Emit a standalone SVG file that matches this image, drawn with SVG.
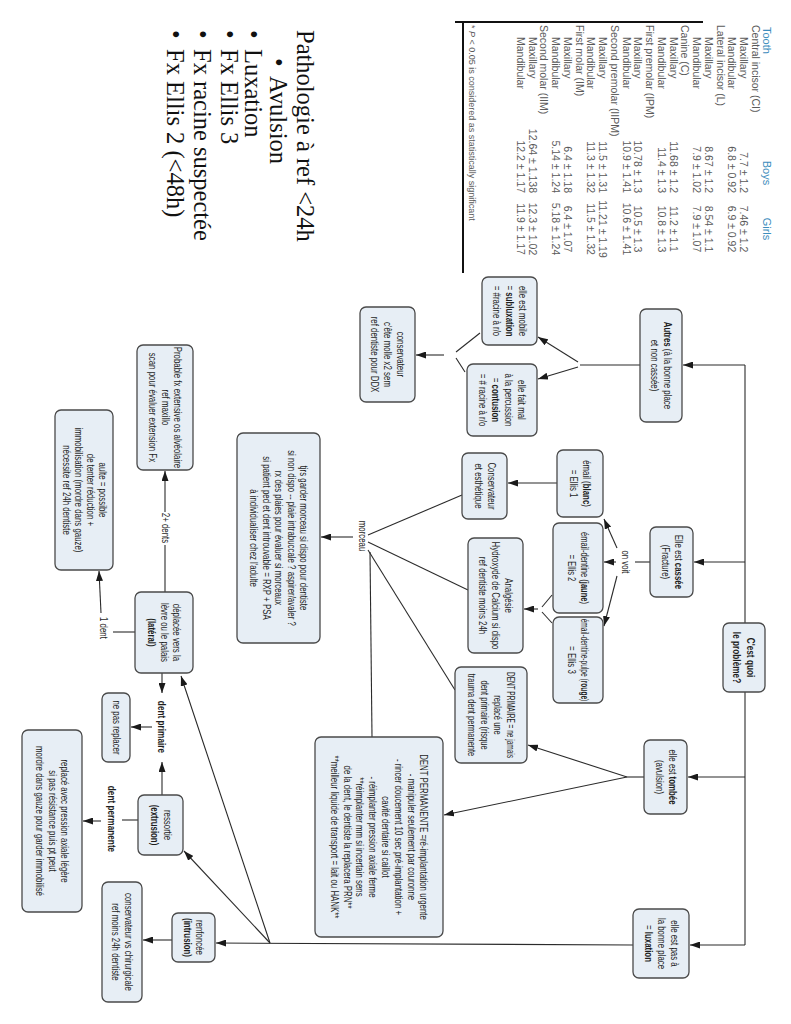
<svg xmlns="http://www.w3.org/2000/svg" width="791" height="1024" viewBox="0 0 791 1024">
<style>
.n rect{fill:#e7eef5;stroke:#4a4a4a;stroke-width:1.3}
.c path{fill:none;stroke:#2b2b2b;stroke-width:1.1}
.c path.a{marker-end:url(#ah)}
.t{font-family:"Liberation Sans",Arial,sans-serif;font-size:10.5px;fill:#1e1e1e;text-anchor:middle}
.lb{font-size:11px;font-weight:bold}
.tb{font-family:"Liberation Sans",Arial,sans-serif;font-size:10.5px;fill:#5a5a5a}
.th{font-family:"Liberation Sans",Arial,sans-serif;font-size:11px;fill:#3d8dbd}
.ti{font-family:"Liberation Serif","Times New Roman",serif;font-size:24.5px;fill:#111}
</style>
<defs>
<marker id="ah" viewBox="0 0 10 7" refX="10" refY="3.5" markerWidth="10" markerHeight="7" markerUnits="userSpaceOnUse" orient="auto"><path d="M0,0L10,3.5L0,7z" fill="#1a1a1a"/></marker>
</defs>
<rect width="791" height="1024" fill="#fff"/>
<g transform="translate(791,0) rotate(90)">
<g id="title">
<text class="ti" x="30" y="494">Pathologie à ref &lt;24h</text>
<text class="ti" x="58" y="521">•</text><text class="ti" x="76" y="521">Avulsion</text>
<text class="ti" x="30" y="546">•</text><text class="ti" x="49" y="546">Luxation</text>
<text class="ti" x="30" y="570">•</text><text class="ti" x="49" y="570">Fx Ellis 3</text>
<text class="ti" x="30" y="597">•</text><text class="ti" x="49" y="597">Fx racine suspectée</text>
<text class="ti" x="30" y="624">•</text><text class="ti" x="49" y="624">Fx Ellis 2 (&lt;48h)</text>
</g>
<g id="table">
<path d="M22,88V336M22,328H273" fill="none" stroke="#111" stroke-width="2"/>
<text class="th" x="27" y="28">Tooth</text>
<text class="th" x="173" y="28" text-anchor="middle">Boys</text>
<text class="th" x="229" y="28" text-anchor="middle">Girls</text>
<g class="tb">
<text x="25" y="39.25">Central incisor (CI)</text>
<text x="37" y="51">Maxillary</text><text x="193" y="51" text-anchor="end">7.7 ± 1.2</text><text x="229" y="51" text-anchor="middle">7.46 ± 1.2</text>
<text x="37" y="62.75">Mandibular</text><text x="193" y="62.75" text-anchor="end">6.8 ± 0.92</text><text x="229" y="62.75" text-anchor="middle">6.9 ± 0.92</text>
<text x="25" y="74.5">Lateral incisor (L)</text>
<text x="37" y="86.25">Maxillary</text><text x="193" y="86.25" text-anchor="end">8.67 ± 1.2</text><text x="229" y="86.25" text-anchor="middle">8.54 ± 1.1</text>
<text x="37" y="98">Mandibular</text><text x="193" y="98" text-anchor="end">7.9 ± 1.02</text><text x="229" y="98" text-anchor="middle">7.9 ± 1.07</text>
<text x="25" y="109.75">Canine (C)</text>
<text x="37" y="121.5">Maxillary</text><text x="193" y="121.5" text-anchor="end">11.68 ± 1.2</text><text x="229" y="121.5" text-anchor="middle">11.2 ± 1.1</text>
<text x="37" y="133.25">Mandibular</text><text x="193" y="133.25" text-anchor="end">11.4 ± 1.3</text><text x="229" y="133.25" text-anchor="middle">10.8 ± 1.3</text>
<text x="25" y="145">First premolar (IPM)</text>
<text x="37" y="156.75">Maxillary</text><text x="193" y="156.75" text-anchor="end">10.78 ± 1.3</text><text x="229" y="156.75" text-anchor="middle">10.5 ± 1.3</text>
<text x="37" y="168.5">Mandibular</text><text x="193" y="168.5" text-anchor="end">10.9 ± 1.41</text><text x="229" y="168.5" text-anchor="middle">10.6 ± 1.41</text>
<text x="25" y="180.25">Second premolar (IIPM)</text>
<text x="37" y="192">Maxillary</text><text x="193" y="192" text-anchor="end">11.5 ± 1.31</text><text x="229" y="192" text-anchor="middle">11.21 ± 1.19</text>
<text x="37" y="203.75">Mandibular</text><text x="193" y="203.75" text-anchor="end">11.3 ± 1.32</text><text x="229" y="203.75" text-anchor="middle">11.5 ± 1.32</text>
<text x="25" y="215.5">First molar (IM)</text>
<text x="37" y="227.25">Maxillary</text><text x="193" y="227.25" text-anchor="end">6.4 ± 1.18</text><text x="229" y="227.25" text-anchor="middle">6.4 ± 1.07</text>
<text x="37" y="239">Mandibular</text><text x="193" y="239" text-anchor="end">5.14 ± 1.24</text><text x="229" y="239" text-anchor="middle">5.18 ± 1.24</text>
<text x="25" y="250.75">Second molar (IIM)</text>
<text x="37" y="262.5">Maxillary</text><text x="193" y="262.5" text-anchor="end">12.64 ± 1.138</text><text x="229" y="262.5" text-anchor="middle">12.3 ± 1.02</text>
<text x="37" y="274.25">Mandibular</text><text x="193" y="274.25" text-anchor="end">12.2 ± 1.17</text><text x="229" y="274.25" text-anchor="middle">11.9 ± 1.17</text>
<text x="25" y="322.5" font-size="9">* <tspan font-style="italic">P</tspan> &lt; 0.05 is considered as statistically significant</text>
</g>
</g>
<g id="connectors" class="c">
<path d="M365,46H945"/>
<path class="a" d="M365,46V108"/>
<path class="a" d="M562,46V97"/>
<path class="a" d="M777,46V103"/>
<path class="a" d="M945,46V101"/>
<path d="M365,151V211"/>
<path class="a" d="M362,213L337,253"/>
<path class="a" d="M367,213L379,253"/>
<path d="M333,311L352,335"/>
<path d="M372,326L358,335"/>
<path class="a" d="M355,347V375"/>
<path d="M562,141V156"/>
<path class="a" d="M548,174L519,187"/>
<path class="a" d="M562,175V187"/>
<path class="a" d="M576,174L626,187"/>
<path class="a" d="M483,234V283"/>
<path d="M595,239L607,249"/>
<path d="M623,239L612,249"/>
<path class="a" d="M609,253V267"/>
<path d="M535,423L495,329"/>
<path d="M542,423L590,323"/>
<path d="M550,423L690,336"/>
<path d="M552,421L737,419"/>
<path class="a" d="M537,438V470"/>
<path d="M777,147V164"/>
<path class="a" d="M777,164L745,263"/>
<path class="a" d="M777,164L815,347"/>
<path class="a" d="M945,158L943,575"/>
<path class="a" d="M943,521L851,607"/>
<path class="a" d="M943,521L676,610"/>
<path class="a" d="M673,629H693"/>
<path class="a" d="M795,629H762"/>
<path class="a" d="M727,639V660"/>
<path d="M820,653V669"/>
<path class="a" d="M821,690V708"/>
<path class="a" d="M940,619V648"/>
<path d="M592,626H545"/>
<path class="a" d="M512,626H471"/>
<path d="M632,656V678"/>
<path class="a" d="M613,690L571,692"/>
</g>
<g id="labels" class="t">
<text transform="scale(.75 1)" x="749.3" y="169.5">on voit</text>
<text transform="scale(.75 1)" x="714.7" y="432.5">morceau</text>
<text transform="scale(.75 1)" x="704" y="629.5">2+ dents</text>
<text transform="scale(.75 1)" x="837.3" y="691.5">1 dent</text>
<text class="lb" transform="scale(.75 1)" x="969.3" y="633">dent primaire</text>
<text class="lb" transform="scale(.75 1)" x="1092" y="683">dent permanente</text>
</g>
<g id="n-question" class="n"><rect x="623" y="26" width="69" height="42" rx="6"/><text class="t lb" transform="scale(.75 1)"><tspan x="876.7" y="44">C'est quoi</tspan><tspan x="876.7" y="58">le problème?</tspan></text></g>
<g id="n-autres" class="n"><rect x="309" y="109" width="113" height="42" rx="6"/><text class="t" transform="scale(.75 1)"><tspan x="487.3" y="127"><tspan font-weight="bold">Autres</tspan> (à la bonne place</tspan><tspan x="487.3" y="140">et non cassée)</tspan></text></g>
<g id="n-cassee" class="n"><rect x="527" y="98" width="70" height="43" rx="6"/><text class="t" transform="scale(.75 1)"><tspan x="749.3" y="116.5">Elle est <tspan font-weight="bold">cassée</tspan></tspan><tspan x="749.3" y="129.5">(Fracture)</tspan></text></g>
<g id="n-tombee" class="n"><rect x="740" y="104" width="74" height="43" rx="6"/><text class="t" transform="scale(.75 1)"><tspan x="1036" y="122.5">elle est <tspan font-weight="bold">tombée</tspan></tspan><tspan x="1036" y="135.5">(avulsion)</tspan></text></g>
<g id="n-luxation" class="n"><rect x="909" y="102" width="69" height="56" rx="6"/><text class="t" transform="scale(.75 1)"><tspan x="1258" y="120.5">elle est pas à</tspan><tspan x="1258" y="133.5">la bonne place</tspan><tspan x="1258" y="146.5">= <tspan font-weight="bold">luxation</tspan></tspan></text></g>
<g id="n-subluxation" class="n"><rect x="277" y="254" width="68" height="55" rx="6"/><text class="t" transform="scale(.75 1)"><tspan x="414.7" y="272">elle est mobile</tspan><tspan x="414.7" y="285">= <tspan font-weight="bold">subluxation</tspan></tspan><tspan x="414.7" y="298">= #racine à r/o</tspan></text></g>
<g id="n-contusion" class="n"><rect x="364" y="254" width="72" height="70" rx="6"/><text class="t" transform="scale(.75 1)"><tspan x="533.3" y="273">elle fait mal</tspan><tspan x="533.3" y="286">à la percussion</tspan><tspan x="533.3" y="299">= <tspan font-weight="bold">contusion</tspan></tspan><tspan x="533.3" y="312">= # racine à r/o</tspan></text></g>
<g id="n-conservateur" class="n"><rect x="307" y="376" width="95" height="55" rx="6"/><text class="t" transform="scale(.75 1)"><tspan x="472.7" y="394">conservateur</tspan><tspan x="472.7" y="407">c'ête molle x2 sem</tspan><tspan x="472.7" y="420">ref dentiste pour DDX</tspan></text></g>
<g id="n-ellis1" class="n"><rect x="450" y="188" width="67" height="46" rx="6"/><text class="t" transform="scale(.75 1)"><tspan x="644.7" y="208">émail (<tspan font-weight="bold">blanc</tspan>)</tspan><tspan x="644.7" y="221">= Ellis 1</tspan></text></g>
<g id="n-ellis2" class="n"><rect x="523" y="188" width="90" height="50" rx="6"/><text class="t" transform="scale(.72 1)"><tspan x="788.9" y="210">émail-dentine (<tspan font-weight="bold">jaune</tspan>)</tspan><tspan x="788.9" y="223">= Ellis 2</tspan></text></g>
<g id="n-ellis3" class="n"><rect x="617" y="188" width="86" height="50" rx="6"/><text class="t" transform="scale(.63 1)"><tspan x="1047.6" y="210">émail-dentine-pulpe (<tspan font-weight="bold">rouge</tspan>)</tspan></text><text class="t" transform="scale(.75 1)"><tspan x="880" y="223">= Ellis 3</tspan></text></g>
<g id="n-esthetique" class="n"><rect x="453" y="284" width="66" height="45" rx="6"/><text class="t" transform="scale(.75 1)"><tspan x="648" y="303.5">Conservateur</tspan><tspan x="648" y="316.5">et esthétique</tspan></text></g>
<g id="n-analgesie" class="n"><rect x="538" y="268" width="115" height="55" rx="6"/><text class="t" transform="scale(.75 1)"><tspan x="794" y="286">Analgésie</tspan><tspan x="794" y="299">Hydroxyde de Calcium si dispo</tspan><tspan x="794" y="312">ref dentiste moins 24h</tspan></text></g>
<g id="n-dentprimaire" class="n"><rect x="667" y="264" width="96" height="72" rx="6"/><text class="t" transform="scale(.62 1)"><tspan x="1153.2" y="284">DENT PRIMAIRE = ne jamais</tspan></text><text class="t" transform="scale(.72 1)"><tspan x="993.1" y="297">replacé une</tspan><tspan x="993.1" y="310">dent primaire (risque</tspan><tspan x="993.1" y="323">trauma dent permanente</tspan></text></g>
<g id="n-dentpermanente" class="n"><rect x="737" y="348" width="200" height="128" rx="6"/><text class="t" transform="scale(.75 1)"><tspan x="1116" y="370.7">DENT PERMANENTE =ré-implantation urgente</tspan><tspan x="1116" y="383.5">- manipuler seulement par couronne</tspan><tspan x="1116" y="396.3">- rincer doucement 10 sec pré-implantation +</tspan><tspan x="1116" y="409.1">cavité dentaire si caillot</tspan><tspan x="1116" y="421.9">- réimplanter pression axiale ferme</tspan><tspan x="1116" y="434.7">**réimplanter mm si incertain sens</tspan><tspan x="1116" y="447.5">de la dent, le dentiste la replacera PRN**</tspan><tspan x="1116" y="460.3">**meilleur liquide de transport = lait ou HANK**</tspan></text></g>
<g id="n-morceau" class="n"><rect x="433" y="471" width="210" height="83" rx="6"/><text class="t" transform="scale(.75 1)"><tspan x="717.3" y="491">tjrs garder morceau si dispo pour dentiste</tspan><tspan x="717.3" y="503.5">si non dispo -- plaie intrabuccale ? aspirer/avaler ?</tspan><tspan x="717.3" y="516">rx des plaies pour évaluer si morceaux</tspan><tspan x="717.3" y="528.5">si patient ped et dent introuvable = RXP + PSA</tspan><tspan x="717.3" y="541">à individualiser chez l'adulte</tspan></text></g>
<g id="n-probable" class="n"><rect x="345" y="598" width="125" height="56" rx="6"/><text class="t" transform="scale(.75 1)"><tspan x="543.3" y="617">Probable fx extensive os alvéolaire</tspan><tspan x="543.3" y="629.5">ref maxillo</tspan><tspan x="543.3" y="642">scan pour évaluer extension Fx</tspan></text></g>
<g id="n-aulte" class="n"><rect x="410" y="678" width="160" height="58" rx="6"/><text class="t" transform="scale(.75 1)"><tspan x="653.3" y="692.5">aulte = possible</tspan><tspan x="653.3" y="704.5">de tenter réduction +</tspan><tspan x="653.3" y="716.5">immobilisation (mordre dans gauze)</tspan><tspan x="653.3" y="728.5">nécessite ref 24h dentiste</tspan></text></g>
<g id="n-lateral" class="n"><rect x="592" y="598" width="81" height="58" rx="6"/><text class="t" transform="scale(.75 1)"><tspan x="843.3" y="618">déplacée vers la</tspan><tspan x="843.3" y="630.5">lèvre ou le palais</tspan><tspan x="843.3" y="643" font-weight="bold">(latéral)</tspan></text></g>
<g id="n-nepas" class="n"><rect x="693" y="661" width="69" height="28" rx="6"/><text class="t" transform="scale(.75 1)"><tspan x="970" y="678.5">ne pas replacer</tspan></text></g>
<g id="n-extrusion" class="n"><rect x="795" y="608" width="60" height="45" rx="6"/><text class="t" transform="scale(.75 1)"><tspan x="1100" y="627.5">ressortie</tspan><tspan x="1100" y="640.5" font-weight="bold">(extrusion)</tspan></text></g>
<g id="n-replace" class="n"><rect x="730" y="709" width="182" height="60" rx="6"/><text class="t" transform="scale(.75 1)"><tspan x="1094.7" y="730">replacé avec pression axiale légère</tspan><tspan x="1094.7" y="742.5">si pas résistance puis pt peut</tspan><tspan x="1094.7" y="755">mordre dans gauze pour garder immobilisé</tspan></text></g>
<g id="n-intrusion" class="n"><rect x="913" y="576" width="49" height="43" rx="6"/><text class="t" transform="scale(.75 1)"><tspan x="1250" y="594.5">renfoncée</tspan><tspan x="1250" y="607.5" font-weight="bold">(intrusion)</tspan></text></g>
<g id="n-chirurgicale" class="n"><rect x="882" y="649" width="120" height="40" rx="6"/><text class="t" transform="scale(.75 1)"><tspan x="1256" y="666">conservateur vs chirurgicale</tspan><tspan x="1256" y="679">ref moins 24h dentiste</tspan></text></g>
</g>
</svg>
